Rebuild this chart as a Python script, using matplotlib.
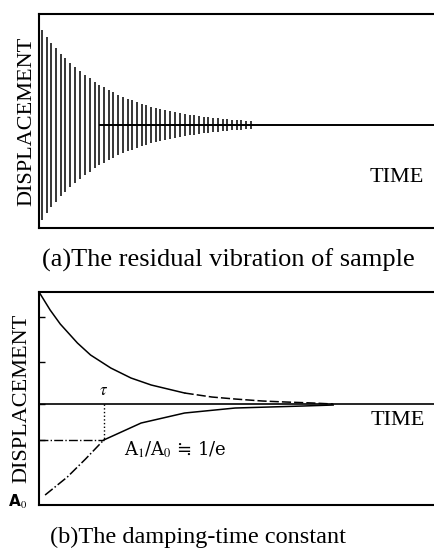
import numpy as np
import matplotlib
matplotlib.use('Agg')
import matplotlib.pyplot as plt

plt.rcParams['font.family'] = ['Liberation Serif', 'DejaVu Serif']
plt.rcParams['mathtext.fontset'] = 'stix'

# (a) residual vibration: time of each stroke and its amplitude
vib_time = [3, 8, 12, 17, 22, 26, 31, 36, 41, 45, 50, 55, 59, 64, 69, 73, 78,
            83, 88, 92, 97, 102, 106, 111, 116, 120, 125, 130, 135, 139, 144,
            149, 153, 158, 163, 167, 172, 177, 182, 186, 191, 196, 200, 205, 210]
vib_amp = [0.95, 0.88, 0.82, 0.77, 0.71, 0.67, 0.62, 0.58, 0.54, 0.50, 0.47,
           0.43, 0.40, 0.38, 0.35, 0.33, 0.30, 0.28, 0.26, 0.25, 0.23, 0.21,
           0.20, 0.18, 0.17, 0.16, 0.15, 0.14, 0.13, 0.12, 0.11, 0.10, 0.10,
           0.09, 0.08, 0.08, 0.07, 0.07, 0.06, 0.06, 0.05, 0.05, 0.05, 0.04, 0.04]

# (b) decay envelopes
up_time = [0, 11, 21, 38, 51, 71, 91, 111, 144]
up_val = [1.12, 0.94, 0.80, 0.61, 0.49, 0.36, 0.26, 0.19, 0.11]
up_tail_time = [144, 171, 194, 221, 244, 271, 291]
up_tail_val = [0.11, 0.07, 0.05, 0.03, 0.02, 0.01, 0.0]
lo_time = [6, 28, 46, 64]
lo_val = [-0.91, -0.73, -0.55, -0.36]
lo_tail_time = [64, 101, 144, 194, 261, 291]
lo_tail_val = [-0.36, -0.19, -0.09, -0.04, -0.02, -0.01]
tau_time = 64
tau_val = -0.36

fig = plt.figure(figsize=(4.34, 5.52), dpi=100)

ax1 = fig.add_axes([0.0899, 0.587, 0.92, 0.3877])
ax1.vlines(vib_time, [-a for a in vib_amp], vib_amp, color='black', lw=1.1)
ax1.plot([60, 395], [0, 0], color='black', lw=1.4)
ax1.set_xlim(0, 395)
ax1.set_ylim(-1.03, 1.11)
ax1.text(327, -0.53, 'TIME', fontsize=16, va='center')
ax1.set_ylabel('DISPLACEMENT', fontsize=16, labelpad=2)

ax2 = fig.add_axes([0.0899, 0.0851, 0.92, 0.3859])
ax2.plot(up_time, up_val, color='black', lw=1.1)
ax2.plot(up_tail_time, up_tail_val, color='black', lw=1.1, ls=(0, (6, 2)))
ax2.plot(lo_time, lo_val, color='black', lw=1.1, ls='-.')
ax2.plot(lo_tail_time, lo_tail_val, color='black', lw=1.1)
ax2.axhline(0, color='black', lw=1.2)
ax2.plot([tau_time, tau_time], [0, tau_val], color='black', lw=1.0, ls=':')
ax2.plot([0, tau_time], [tau_val, tau_val], color='black', lw=1.0, ls='-.')
ax2.text(tau_time, 0.05, r'$\tau$', fontsize=12, ha='center', va='bottom')
ax2.text(84, -0.46, 'A$_1$/A$_0$ ≒ 1/e', fontsize=13, va='center',
         family=['DejaVu Serif'])
ax2.text(328, -0.16, 'TIME', fontsize=16, va='center')
ax2.set_xlim(0, 395)
ax2.set_ylim(-1.01, 1.12)
ax2.set_ylabel('DISPLACEMENT', fontsize=16, labelpad=2)
fig.text(0.018, 0.09, 'A$_0$', fontsize=11, family=['DejaVu Sans'],
         weight='bold', va='center')

for ax in (ax1, ax2):
    ax.spines['right'].set_visible(False)
    for s in ('left', 'top', 'bottom'):
        ax.spines[s].set_linewidth(1.5)
    ax.set_xticks([])
ax1.set_yticks([])
ax2.set_yticks([0.87, 0.42, 0, -0.36])
ax2.set_yticklabels([])
ax2.tick_params(axis='y', direction='in', length=4, width=1)

fig.text(0.097, 0.529, '(a)The residual vibration of sample', fontsize=19,
         va='center')
fig.text(0.115, 0.027, '(b)The damping-time constant', fontsize=17.5,
         va='center')

fig.savefig('out.png', dpi=100)
